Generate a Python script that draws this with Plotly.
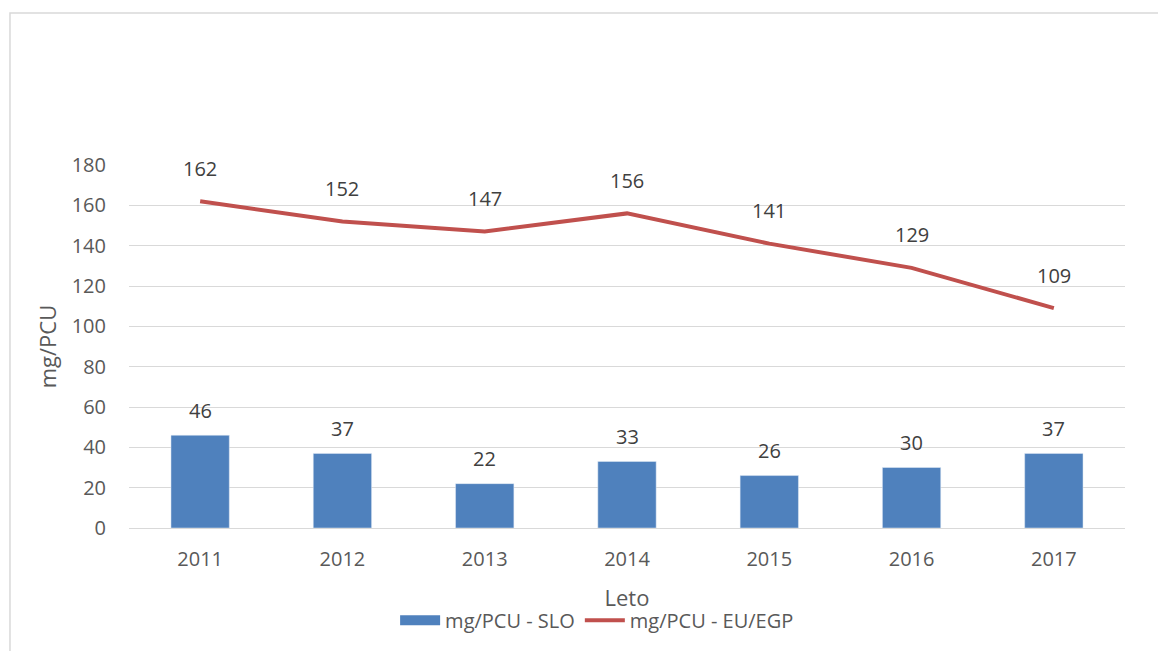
import plotly.graph_objects as go

years = ["2011", "2012", "2013", "2014", "2015", "2016", "2017"]
slo = [46, 37, 22, 33, 26, 30, 37]
eu = [162, 152, 147, 156, 141, 129, 109]
y_ticks = [0, 20, 40, 60, 80, 100, 120, 140, 160, 180]

FONT = "Open Sans, Liberation Sans, sans-serif"
TXT = "#595959"
LBL = "#404040"

fig = go.Figure()
fig.add_trace(go.Bar(
    x=years, y=slo, name="mg/PCU - SLO",
    marker=dict(color="#4F81BD"),
    width=0.41, showlegend=False, legendgroup="slo",
))
# legend proxy for the bar series (wide rectangle like the original)
fig.add_trace(go.Scatter(
    x=[years[0]], y=[None], name="mg/PCU - SLO", mode="lines",
    line=dict(color="#4F81BD", width=14), legendgroup="slo",
))
fig.add_trace(go.Scatter(
    x=years, y=eu, name="mg/PCU - EU/EGP", mode="lines",
    line=dict(color="#C0504D", width=4),
    cliponaxis=False,
))

annotations = []
for i, v in enumerate(eu):
    annotations.append(dict(x=i, y=v, xref="x", yref="y", text=str(v), showarrow=False,
                            yshift=33, font=dict(size=20, color=LBL, family=FONT)))
for i, v in enumerate(slo):
    annotations.append(dict(x=i, y=v, xref="x", yref="y", text=str(v), showarrow=False,
                            yshift=25, font=dict(size=20, color=LBL, family=FONT)))

fig.update_layout(
    width=1158, height=651,
    margin=dict(l=129, r=33, t=165, b=123, autoexpand=False),
    paper_bgcolor="white", plot_bgcolor="white",
    font=dict(family=FONT, color=TXT, size=20),
    showlegend=True,
    legend=dict(orientation="h", x=0.47, xanchor="center", y=-0.254, yanchor="middle",
                font=dict(size=20, color=TXT), tracegroupgap=0, itemwidth=40),
    bargap=0.59,
    annotations=annotations,
    shapes=[dict(type="rect", xref="paper", yref="paper",
                 x0=-0.1195, x1=1.04, y0=-0.36, y1=1.4187,
                 line=dict(color="#D9D9D9", width=1.5), fillcolor="rgba(0,0,0,0)", layer="below")],
)
fig.update_xaxes(
    type="category", categoryorder="array", categoryarray=years,
    range=[-0.5, len(years) - 0.5], automargin=False,
    showgrid=False, showline=False, ticks="",
    tickfont=dict(size=20, color=TXT), ticklabelstandoff=17,
    title=dict(text="Leto", font=dict(size=22, color=TXT), standoff=19),
)
fig.update_yaxes(
    range=[0, 180], tickvals=y_ticks, showgrid=True, gridcolor="#D9D9D9", gridwidth=1.3,
    zeroline=True, zerolinecolor="#D9D9D9", zerolinewidth=1.3, showline=False, ticks="",
    tickfont=dict(size=20, color=TXT), ticklabelstandoff=22, automargin=False,
    title=dict(text="mg/PCU", font=dict(size=22, color=TXT), standoff=8),
)
fig.write_html("out.html", config={"displayModeBar": False},
               post_script="document.body.style.margin='0';")
